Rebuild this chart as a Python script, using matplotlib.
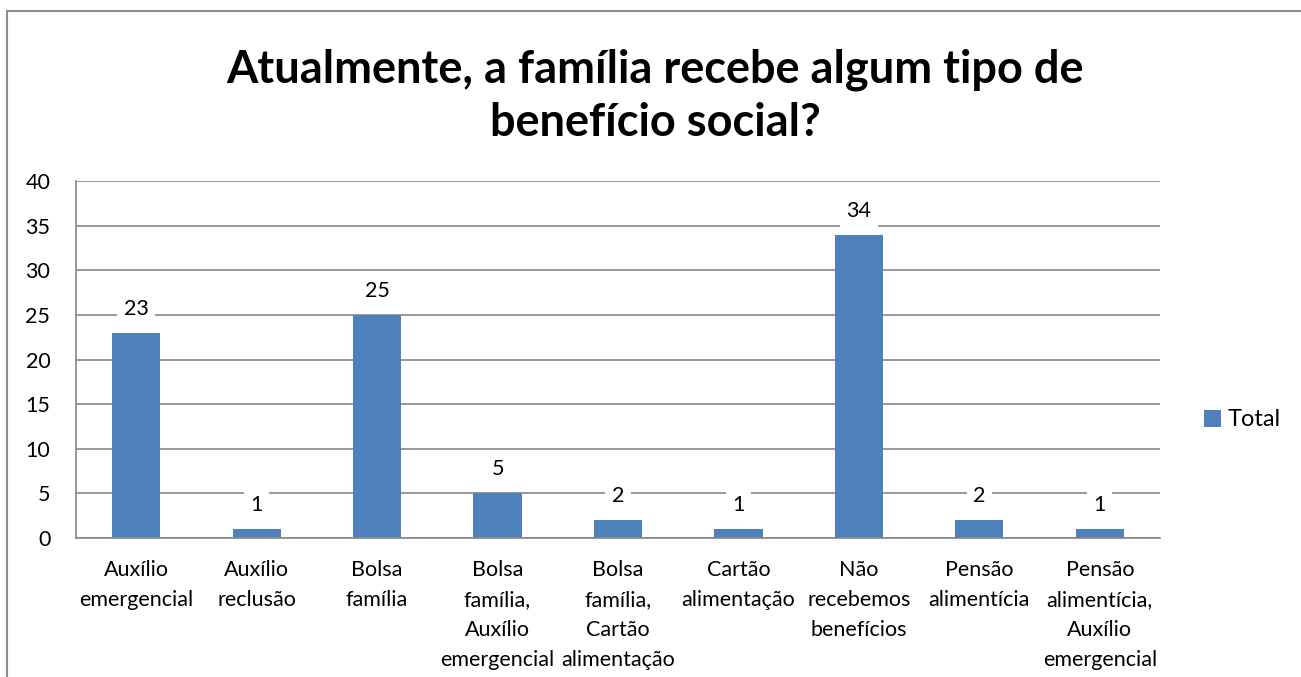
import matplotlib.pyplot as plt
from matplotlib.patches import Rectangle

plt.rcParams['font.family'] = ['Lato', 'DejaVu Sans']

categorias = ['Auxílio\nemergencial', 'Auxílio\nreclusão', 'Bolsa\nfamília',
              'Bolsa\nfamília,\nAuxílio\nemergencial', 'Bolsa\nfamília,\nCartão\nalimentação',
              'Cartão\nalimentação', 'Não\nrecebemos\nbenefícios', 'Pensão\nalimentícia',
              'Pensão\nalimentícia,\nAuxílio\nemergencial']
total = [23, 1, 25, 5, 2, 1, 34, 2, 1]
y_ticks = [0, 5, 10, 15, 20, 25, 30, 35, 40]

cor_barra = '#4F81BD'
cinza = '#868686'

fig = plt.figure(figsize=(13.01, 6.77), dpi=100)
W, H = 1301, 677
# area do grafico em pixels
left, right, top, bottom = 76, 1160, 181, 538
ax = fig.add_axes([left / W, 1 - bottom / H, (right - left) / W, (bottom - top) / H])

# moldura do grafico
fig.patches.append(Rectangle((7 / W, -0.1), 1.2, 1 - 11 / H + 0.1, transform=fig.transFigure,
                             fill=False, edgecolor='#8c8c8c', linewidth=1.5))

x = range(len(total))
barras = ax.bar(x, total, width=0.4, color=cor_barra, label='Total', zorder=2)
ax.set_xlim(-0.5, len(total) - 0.5)
ax.set_ylim(0, 40)
ax.set_yticks(y_ticks)
ax.set_yticklabels([str(v) for v in y_ticks], fontsize=15.5)
ax.set_xticks(list(x))
ax.set_xticklabels(categorias, fontsize=15.5, linespacing=1.62)
ax.tick_params(axis='x', length=0, pad=16)
ax.tick_params(axis='y', length=0, pad=18.5)
ax.yaxis.grid(True, color=cinza, linewidth=1.2, zorder=0)
ax.set_axisbelow(True)
for s in ['top', 'right']:
    ax.spines[s].set_visible(False)
for s in ['left', 'bottom']:
    ax.spines[s].set_color(cinza)
    ax.spines[s].set_linewidth(1.2)

for i, v in enumerate(total):
    ax.annotate(str(v), (i, v), xytext=(0, 10), textcoords='offset points',
                ha='center', va='bottom', fontsize=15.5, zorder=3,
                bbox=dict(boxstyle='square,pad=0.3', fc='white', ec='none'))

fig.text(655 / W, 1 - 96 / H, 'Atualmente, a família recebe algum tipo de\nbenefício social?',
         ha='center', va='center', fontsize=32.5, fontweight='bold', linespacing=1.33)

fig.legend(handles=[barras], labels=['Total'], loc='center left',
           bbox_to_anchor=(1183 / W, 1 - 420 / H), frameon=False, fontsize=17,
           handlelength=0.7, handleheight=0.7, handletextpad=0.3)

fig.savefig('out.png', dpi=100)
